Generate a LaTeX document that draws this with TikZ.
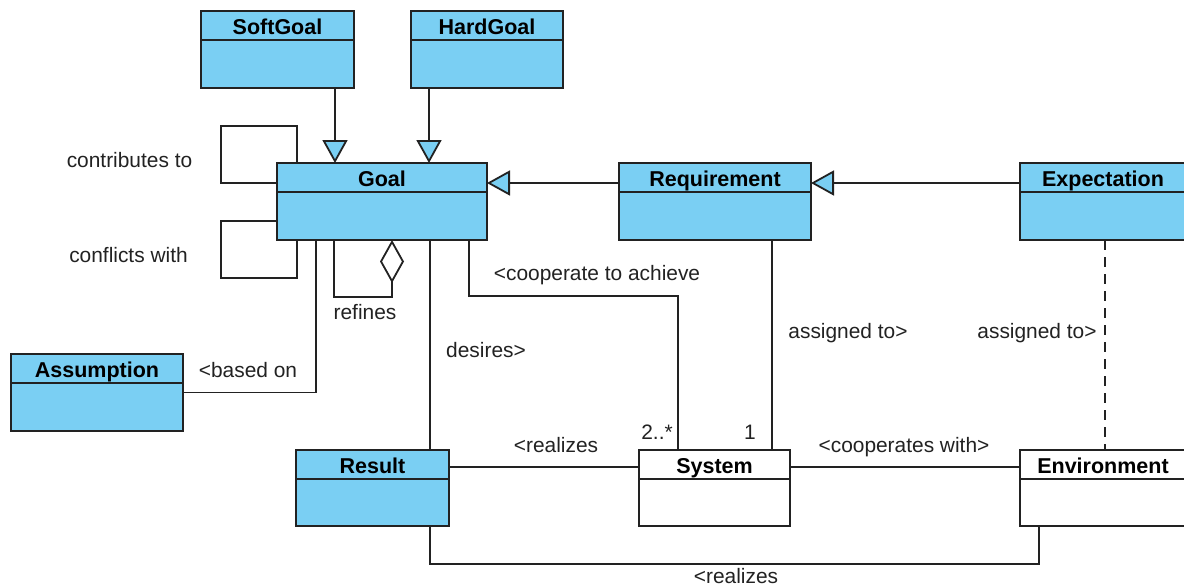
\documentclass[tikz,border=0pt]{standalone}
\usepackage{fontspec}
\setmainfont{Liberation Sans}
\usetikzlibrary{arrows.meta,fit,calc}
\definecolor{umlblue}{RGB}{122,207,243}
\definecolor{umlline}{RGB}{34,34,34}

\tikzset{
  classbox/.style={draw=umlline, line width=1.8pt, inner sep=0pt, outer sep=0pt},
  classtitle/.style={font=\fontsize{21.5}{24}\selectfont\bfseries, inner sep=0pt, anchor=base, text=black},
  lbl/.style={font=\fontsize{20.9}{24}\selectfont, inner sep=0pt, anchor=base, text=umlline},
  conn/.style={draw=umlline, line width=1.8pt},
  gen/.style={conn, -{Triangle[length=23pt,width=25pt,fill=umlblue]}},
  aggr/.style={conn, -{Diamond[length=43pt,width=24pt,fill=white]}},
  dep/.style={conn, dash pattern=on 10pt off 7pt},
}

% class box: name, left, top, right, bottom, title, fill
\newcommand\umlclass[7]{%
  \node[classbox, fill=#7, fit={(#2,#3) (#4,#5)}] (#1) {};
  \draw[conn] ([yshift=-29pt]#1.north west) -- ([yshift=-29pt]#1.north east);
  \node[classtitle] (#1-title) at ([yshift=-23pt]#1.north) {#6};}

\begin{document}
\begin{tikzpicture}[x=1pt, y=-1pt]
\useasboundingbox (0,0) rectangle (1184,587);
\fill[white] (0,0) rectangle (1184,587);

% classes
\umlclass{softgoal}{201}{11}{354}{88}{SoftGoal}{umlblue}
\umlclass{hardgoal}{411}{11}{563}{88}{HardGoal}{umlblue}
\umlclass{goal}{277}{163}{487}{240}{Goal}{umlblue}
\umlclass{requirement}{619}{163}{811}{240}{Requirement}{umlblue}
\umlclass{expectation}{1020}{163}{1186}{240}{Expectation}{umlblue}
\umlclass{assumption}{11}{354}{183}{431}{Assumption}{umlblue}
\umlclass{result}{296}{450}{449}{526}{Result}{umlblue}
\umlclass{system}{639}{450}{790}{526}{System}{white}
\umlclass{environment}{1020}{450}{1186}{526}{Environment}{white}

% helper coordinates for connector routes
\coordinate (gy) at (0,183);
\coordinate (sgx) at (335,0);
\coordinate (hgx) at (429,0);
\coordinate (ctLoop) at (221,126);
\coordinate (cfLoop) at (221,278);
\coordinate (rfA) at (334,0);
\coordinate (rfC) at (392,297);
\coordinate (bx) at (316,0);
\coordinate (dx) at (430,0);
\coordinate (caA) at (469,0);
\coordinate (caC) at (678,296);
\coordinate (asx) at (772,0);
\coordinate (esx) at (1105,0);
\coordinate (ry) at (0,467);
\coordinate (rbC) at (1039,564);

% generalizations
\draw[gen] (softgoal.south -| sgx) -- (goal.north -| sgx);
\draw[gen] (hardgoal.south -| hgx) -- (goal.north -| hgx);
\draw[gen] (requirement.west |- gy) -- (goal.east |- gy);
\draw[gen] (expectation.west |- gy) -- (requirement.east |- gy);

% self associations of Goal
\draw[conn] ([xshift=20pt]goal.north west) |- (ctLoop) |- ([yshift=-20pt]goal.north west);
\draw[conn] ([yshift=-58pt]goal.north west) -| (cfLoop) -| ([xshift=20pt]goal.south west);
\draw[aggr] (goal.south -| rfA) |- (rfC) -- (goal.south -| rfC);

% associations
\draw[conn] (assumption.east) -| (goal.south -| bx);
\draw[conn] (goal.south -| dx) -- (result.north -| dx);
\draw[conn] (goal.south -| caA) |- (caC) -- (system.north -| caC);
\draw[conn] (requirement.south -| asx) -- (system.north -| asx);
\draw[dep] (expectation.south -| esx) -- (environment.north -| esx);
\draw[conn] (result.east |- ry) -- (system.west |- ry);
\draw[conn] (system.east |- ry) -- (environment.west |- ry);
\draw[conn] (result.south -| dx) |- (rbC) -- (environment.south -| rbC);

% labels
\node[lbl] (l-contrib) at (129.5,167) {contributes to};
\node[lbl] (l-conflict) at (128.5,262) {conflicts with};
\node[lbl] (l-refines) at (365,319) {refines};
\node[lbl] (l-based) at (248,377) {<based on};
\node[lbl] (l-desires) at (486,357) {desires>};
\node[lbl] (l-coop) at (597,280) {<cooperate to achieve};
\node[lbl] (l-assign1) at (848,338) {assigned to>};
\node[lbl] (l-assign2) at (1037,338) {assigned to>};
\node[lbl] (l-mult2) at (657,439) {2..*};
\node[lbl] (l-mult1) at (750,439) {1};
\node[lbl] (l-real1) at (556,452) {<realizes};
\node[lbl] (l-coopw) at (904,452) {<cooperates with>};
\node[lbl] (l-real2) at (736,583) {<realizes};
\end{tikzpicture}
\end{document}
